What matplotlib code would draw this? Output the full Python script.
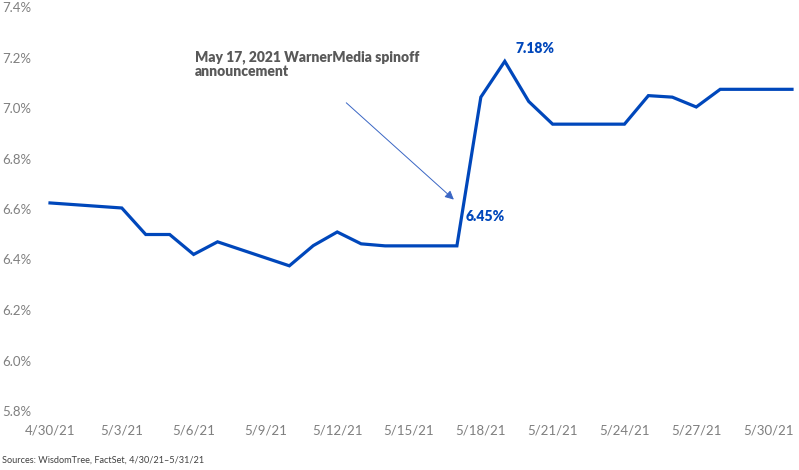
import datetime as dt
import matplotlib
matplotlib.use("Agg")
import matplotlib.pyplot as plt
import matplotlib.dates as mdates
from matplotlib.ticker import FuncFormatter

# trading days and yield (%)
dates = ["2021-04-30", "2021-05-03", "2021-05-04", "2021-05-05", "2021-05-06",
         "2021-05-07", "2021-05-10", "2021-05-11", "2021-05-12", "2021-05-13",
         "2021-05-14", "2021-05-17", "2021-05-18", "2021-05-19", "2021-05-20",
         "2021-05-21", "2021-05-24", "2021-05-25", "2021-05-26", "2021-05-27",
         "2021-05-28", "2021-05-31"]
yields = [6.624, 6.604, 6.499, 6.499, 6.42, 6.47, 6.375, 6.455, 6.509, 6.462,
          6.454, 6.454, 7.043, 7.185, 7.026, 6.936, 6.936, 7.049, 7.043, 7.004,
          7.074, 7.074]
tick_dates = ["2021-04-30", "2021-05-03", "2021-05-06", "2021-05-09", "2021-05-12",
              "2021-05-15", "2021-05-18", "2021-05-21", "2021-05-24", "2021-05-27",
              "2021-05-30"]
y_ticks = [5.8, 6.0, 6.2, 6.4, 6.6, 6.8, 7.0, 7.2, 7.4]

x = [dt.datetime.strptime(d, "%Y-%m-%d") for d in dates]
xt = [dt.datetime.strptime(d, "%Y-%m-%d") for d in tick_dates]

BLUE = "#0047BB"
GREY = "#7F7F7F"

plt.rcParams["font.family"] = ["Lato", "DejaVu Sans"]

fig = plt.figure(figsize=(7.99, 4.70), dpi=100)
W, H = 799, 470
ax_l, ax_r, ax_t, ax_b = 40, 797, 7, 411
ax = fig.add_axes([ax_l / W, 1 - ax_b / H, (ax_r - ax_l) / W, (ax_b - ax_t) / H])

ax.plot(x, yields, color=BLUE, lw=2.3, solid_joinstyle="miter")

# 4/30 sits at px 50, 5/31 at px 792
px_per_day = (792 - 50) / 31
ax.set_xlim(x[0] - dt.timedelta(days=(50 - ax_l) / px_per_day),
            x[-1] + dt.timedelta(days=(ax_r - 792) / px_per_day))
ax.set_ylim(5.8, 7.4)

ax.set_xticks(xt)
ax.xaxis.set_major_formatter(FuncFormatter(lambda v, p: "{d.month}/{d.day}/21".format(d=mdates.num2date(v))))
ax.set_yticks(y_ticks)
ax.yaxis.set_major_formatter(FuncFormatter(lambda v, p: f"{v:.1f}%"))

ax.tick_params(axis="x", length=0, pad=10, labelsize=9.5, labelcolor=GREY)
ax.tick_params(axis="y", length=0, pad=27.5, labelsize=9.5, labelcolor=GREY)
for lab in ax.get_yticklabels():
    lab.set_ha("left")

for s in ax.spines.values():
    s.set_visible(False)

# callouts
ax.annotate("7.18%", xy=(x[13], yields[13]), xytext=(8, 9.5), textcoords="offset points",
            color=BLUE, fontsize=10, fontweight="heavy", ha="left", va="center")
ax.annotate("6.45%", xy=(x[11], yields[11]), xytext=(6, 21.5), textcoords="offset points",
            color=BLUE, fontsize=10, fontweight="heavy", ha="left", va="center")
ax.annotate("", xy=(dt.datetime(2021, 5, 16, 23), 6.63), xytext=(dt.datetime(2021, 5, 12, 7), 7.028),
            arrowprops=dict(arrowstyle="-|>", color="#3A66C4", lw=0.7, mutation_scale=13))
ax.text(dt.datetime(2021, 5, 6, 1), 7.228, "May 17, 2021 WarnerMedia spinoff\nannouncement",
        color="#595959", fontsize=10, fontweight="heavy", ha="left", va="top", linespacing=1.05)

fig.text(2 / W, 1 - 460 / H, "Sources: WisdomTree, FactSet, 4/30/21\u20135/31/21",
         fontsize=6.6, color="#404040", ha="left", va="center")

fig.savefig("out.png", dpi=100)
